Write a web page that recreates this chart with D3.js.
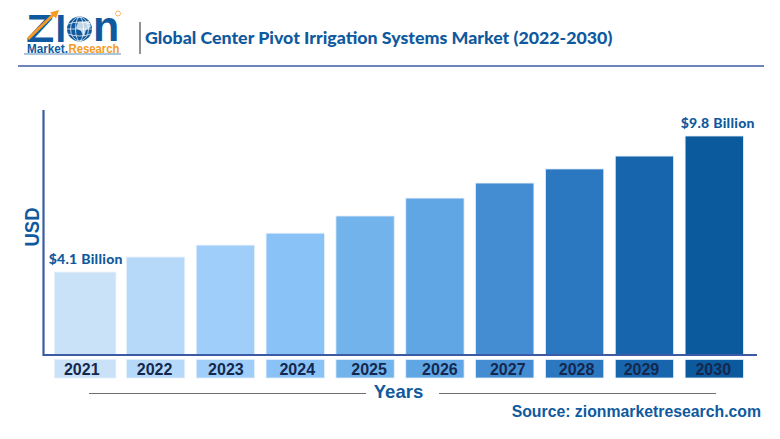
<!DOCTYPE html>
<html>
<head>
<meta charset="utf-8">
<script src="https://cdn.jsdelivr.net/npm/d3@7"></script>
<style>
  html, body { margin: 0; padding: 0; background: #fff; }
  svg { display: block; }
</style>
</head>
<body>
<div id="chart"></div>
<script>
// chart data
const years = ["2021", "2022", "2023", "2024", "2025", "2026", "2027", "2028", "2029", "2030"];
const marketValues = [4.1, 4.73, 5.23, 5.73, 6.45, 7.2, 7.83, 8.42, 8.96, 9.8];
const barColors = ["#c9e2f8", "#b6d9fa", "#9fcefa", "#88c2f7", "#72b3ec", "#60a5e4", "#458dd2", "#2b78c1", "#1766ad", "#0c5a9e"];
const valueLabels = [
  { year: "2021", text: "$4.1 Billion" },
  { year: "2030", text: "$9.8 Billion" },
];
const titleText = "Global Center Pivot Irrigation Systems Market (2022-2030)";
const sourceText = "Source: zionmarketresearch.com";

const width = 780;
const height = 439;
const blue = "#0f5a9e";
const axisBlue = "#3d5ba5";
const grey = "#6f6f6f";
const orange = "#f59a23";

const svg = d3
  .select("#chart")
  .append("svg")
  .attr("width", width)
  .attr("height", height);

// scales - the value axis does not start at zero in the original
const x = d3.scaleBand().domain(years).range([51, 749]).paddingInner(0.165).paddingOuter(0.08);
const y = d3.scaleLinear().domain([0.63, 9.8]).range([355, 136]);

// first bar is a bit wider in the original
const barLeft = (d, i) => x(d) - (i === 0 ? 2 : 0);
const barWidth = (d, i) => x.bandwidth() + (i === 0 ? 3 : 0);
// the year labels are not quite centred on their chips
const yearNudge = [-4, -1, 0.5, 2, 4, 5, 3, 2, -3, -1];

// bars
svg
  .append("g")
  .selectAll("rect")
  .data(years)
  .join("rect")
  .attr("x", barLeft)
  .attr("y", (d, i) => y(marketValues[i]))
  .attr("width", barWidth)
  .attr("height", (d, i) => y.range()[0] - y(marketValues[i]))
  .attr("fill", (d, i) => barColors[i])
  .attr("stroke", "#e4effa")
  .attr("stroke-width", 0.8);

// value axis and baseline
svg
  .append("path")
  .attr("d", "M43.5,110V355H757")
  .attr("fill", "none")
  .attr("stroke", axisBlue)
  .attr("stroke-width", 2.2);

// year chips below the baseline
const chips = svg.append("g");
chips
  .selectAll("rect")
  .data(years)
  .join("rect")
  .attr("x", barLeft)
  .attr("y", 359.5)
  .attr("width", barWidth)
  .attr("height", 18.5)
  .attr("fill", (d, i) => barColors[i])
  .attr("stroke", "#e4effa")
  .attr("stroke-width", 0.8);
chips
  .selectAll("text")
  .data(years)
  .join("text")
  .attr("x", (d, i) => x(d) + x.bandwidth() / 2 + yearNudge[i])
  .attr("y", 374.5)
  .attr("text-anchor", "middle")
  .attr("font-family", "Liberation Sans")
  .attr("font-weight", "bold")
  .attr("font-size", 16)
  .attr("fill", "#14284f")
  .text((d) => d);

// value labels
svg
  .selectAll(".value-label")
  .data(valueLabels)
  .join("text")
  .attr("class", "value-label")
  .attr("x", (d) => x(d.year) + x.bandwidth() / 2 + (d.year === "2030" ? 3.5 : 0))
  .attr("y", (d) => y(marketValues[years.indexOf(d.year)]) - 8)
  .attr("text-anchor", "middle")
  .attr("font-family", "Lato")
  .attr("font-weight", "900")
  .attr("font-size", 14)
  .attr("letter-spacing", 0.3)
  .attr("fill", blue)
  .text((d) => d.text);

// axis titles
svg
  .append("text")
  .attr("transform", "translate(39,227) rotate(-90)")
  .attr("text-anchor", "middle")
  .attr("font-family", "Liberation Sans")
  .attr("font-weight", "bold")
  .attr("font-size", 20)
  .attr("textLength", 39)
  .attr("lengthAdjust", "spacingAndGlyphs")
  .attr("fill", blue)
  .text("USD");

svg
  .append("text")
  .attr("x", 398.5)
  .attr("y", 398)
  .attr("text-anchor", "middle")
  .attr("font-family", "Liberation Sans")
  .attr("font-weight", "bold")
  .attr("font-size", 18.5)
  .attr("fill", blue)
  .text("Years");

svg
  .append("path")
  .attr("d", "M89,393.5H366M439,393.5H716")
  .attr("stroke", grey)
  .attr("stroke-width", 1.2);

svg
  .append("text")
  .attr("x", 761)
  .attr("y", 417)
  .attr("text-anchor", "end")
  .attr("font-family", "Liberation Sans")
  .attr("font-weight", "bold")
  .attr("font-size", 15.8)
  .attr("fill", blue)
  .text(sourceText);

// header
svg
  .append("text")
  .attr("x", 145)
  .attr("y", 44)
  .attr("font-family", "Lato")
  .attr("font-weight", "900")
  .attr("font-size", 17.75)
  .attr("fill", blue)
  .text(titleText);

svg
  .append("line")
  .attr("x1", 140)
  .attr("x2", 140)
  .attr("y1", 22)
  .attr("y2", 54)
  .attr("stroke", grey)
  .attr("stroke-width", 1.5);

svg
  .append("line")
  .attr("x1", 18)
  .attr("x2", 764)
  .attr("y1", 66)
  .attr("y2", 66)
  .attr("stroke", axisBlue)
  .attr("stroke-width", 1.6);

// logo
const logo = svg.append("g");
logo
  .append("text")
  .attr("transform", "translate(26,42) scale(1.22,1)")
  .attr("font-family", "Liberation Sans")
  .attr("font-weight", "bold")
  .attr("font-size", 38)
  .attr("fill", blue)
  .text("Z");
logo
  .append("path")
  .attr("d", "M28,39L54,14")
  .attr("stroke", orange)
  .attr("stroke-width", 3);
logo
  .append("path")
  .attr("d", "M59,10L50,12.5L56,18.5Z")
  .attr("fill", orange);
logo
  .append("text")
  .attr("x", 55.5)
  .attr("y", 42)
  .attr("font-family", "Liberation Sans")
  .attr("font-weight", "bold")
  .attr("font-size", 38)
  .attr("fill", blue)
  .text("I");
logo
  .append("circle")
  .attr("cx", 79.5)
  .attr("cy", 29)
  .attr("r", 12.5)
  .attr("fill", blue);
// globe lines and land
logo
  .selectAll(".meridian")
  .data([4, 9])
  .join("ellipse")
  .attr("class", "meridian")
  .attr("cx", 79.5)
  .attr("cy", 29)
  .attr("rx", (d) => d)
  .attr("ry", 12)
  .attr("fill", "none")
  .attr("stroke", "#fff")
  .attr("stroke-width", 0.7);
logo
  .append("path")
  .attr("d", "M68,24Q79.5,20 91,24M67,29H92M68,34Q79.5,38 91,34")
  .attr("fill", "none")
  .attr("stroke", "#fff")
  .attr("stroke-width", 0.7);
logo
  .append("path")
  .attr("d", "M78,22L89,21L91,27L86,30L84,37L81,31L76,28Z")
  .attr("fill", "#fff")
  .attr("opacity", 0.75);
logo
  .append("text")
  .attr("x", 93)
  .attr("y", 41)
  .attr("font-family", "Liberation Sans")
  .attr("font-weight", "bold")
  .attr("font-size", 43)
  .attr("fill", blue)
  .text("n");
logo
  .append("text")
  .attr("x", 27)
  .attr("y", 53)
  .attr("font-family", "Liberation Sans")
  .attr("font-weight", "bold")
  .attr("font-size", 12)
  .attr("textLength", 41)
  .attr("lengthAdjust", "spacingAndGlyphs")
  .attr("fill", blue)
  .text("Market.");
logo
  .append("text")
  .attr("x", 68.5)
  .attr("y", 53)
  .attr("font-family", "Liberation Sans")
  .attr("font-weight", "bold")
  .attr("font-size", 12)
  .attr("textLength", 51)
  .attr("lengthAdjust", "spacingAndGlyphs")
  .attr("fill", orange)
  .text("Research");
logo
  .append("line")
  .attr("x1", 24)
  .attr("x2", 121)
  .attr("y1", 54)
  .attr("y2", 54)
  .attr("stroke", blue)
  .attr("stroke-width", 0.7);
logo
  .append("circle")
  .attr("cx", 118)
  .attr("cy", 13.5)
  .attr("r", 2.5)
  .attr("fill", "none")
  .attr("stroke", orange)
  .attr("stroke-width", 0.7);
</script>
</body>
</html>
